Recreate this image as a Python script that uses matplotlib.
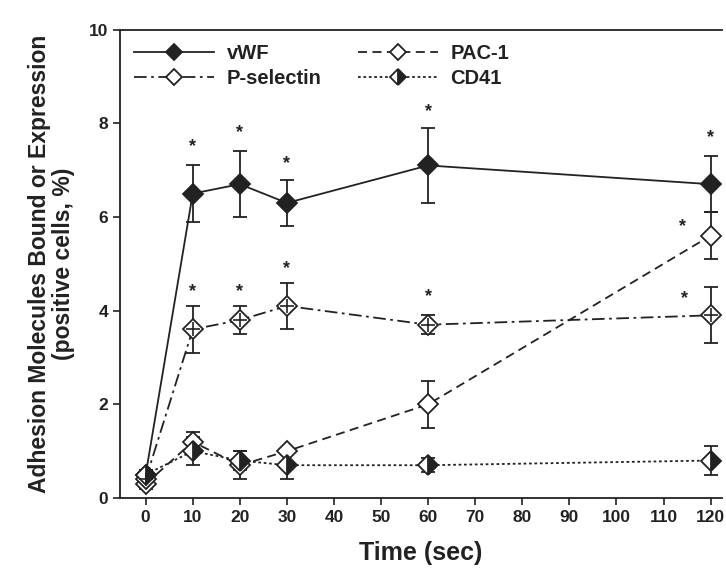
import numpy as np
import matplotlib.pyplot as plt
from matplotlib.lines import Line2D

plt.rcParams['font.family'] = ['Liberation Sans', 'DejaVu Sans']
plt.rcParams['font.weight'] = 'bold'

time = [0, 10, 20, 30, 60, 120]

vwf = [0.5, 6.5, 6.7, 6.3, 7.1, 6.7]
vwf_err = [0.1, 0.6, 0.7, 0.5, 0.8, 0.6]

pac1 = [0.3, 1.2, 0.7, 1.0, 2.0, 5.6]
pac1_err = [0.1, 0.2, 0.3, 0.0, 0.5, 0.5]

psel = [0.4, 3.6, 3.8, 4.1, 3.7, 3.9]
psel_err = [0.1, 0.5, 0.3, 0.5, 0.2, 0.6]

cd41 = [0.5, 1.0, 0.8, 0.7, 0.7, 0.8]
cd41_err = [0.1, 0.3, 0.2, 0.3, 0.15, 0.3]

# significance stars (x, y)
star_x = [10, 20, 30, 60, 120, 10, 20, 30, 60, 114.5, 114]
star_y = [7.5, 7.8, 7.15, 8.25, 7.7, 4.4, 4.4, 4.9, 4.3, 4.25, 5.8]

c = '#222222'
fig = plt.figure(figsize=(7.26, 5.74), dpi=100)
ax = fig.add_axes([0.165, 0.1324, 0.83, 0.816])

kw = dict(color=c, capsize=5, elinewidth=1.3, capthick=1.3, markersize=10,
          markeredgewidth=1.3, lw=1.3)

ls_pac = (0, (5, 3))
ls_psel = (0, (7, 2.5, 1.5, 2.5))
ls_cd = (0, (1.5, 1.5))

ax.errorbar(time, vwf, yerr=vwf_err, marker='D', mfc=c, ls='-', **kw)
ax.errorbar(time, pac1, yerr=pac1_err, marker='D', mfc='white', ls=ls_pac, **kw)
ax.errorbar(time, psel, yerr=psel_err, marker='D', mfc='white', ls=ls_psel, **kw)
ax.plot(time, psel, ls='none', marker='+', color=c, markersize=10, mew=1.2, zorder=5)
ax.errorbar(time, cd41, yerr=cd41_err, marker='D', mfc=c, mfcalt='white', fillstyle='right',
            ls=ls_cd, **kw)

for sx, sy in zip(star_x, star_y):
    ax.text(sx, sy, '*', ha='center', va='center', fontsize=13, color=c)

ax.set_xlim(-5.5, 122.5)
ax.set_ylim(0, 10)
ax.set_xticks(np.arange(0, 121, 10))
ax.set_yticks([0, 2, 4, 6, 8, 10])
ax.tick_params(labelsize=12.5, width=1.2, length=5, colors=c)
ax.spines['right'].set_visible(False)
for s in ['left', 'bottom', 'top']:
    ax.spines[s].set_linewidth(1.3)
    ax.spines[s].set_color(c)

ax.set_xlabel('Time (sec)', fontsize=18, fontweight='bold', labelpad=12, color=c)
ax.set_ylabel('Adhesion Molecules Bound or Expression\n(positive cells, %)', fontsize=16.5,
              fontweight='bold', labelpad=10, color=c, linespacing=1.05)

mk = dict(color=c, marker='D', markersize=8, mew=1.3, lw=1.3)
handles = [Line2D([], [], ls='-', mfc=c, **mk),
           Line2D([], [], ls=ls_psel, mfc='white', **mk),
           Line2D([], [], ls=ls_pac, mfc='white', **mk),
           Line2D([], [], ls=ls_cd, mfc=c, mfcalt='white', fillstyle='right', **mk)]
labels = ['vWF', 'P-selectin', 'PAC-1', 'CD41']
ax.legend(handles, labels, ncol=2, loc='upper left', frameon=False, fontsize=14.5,
          handlelength=4, handletextpad=0.6, columnspacing=1.8, borderaxespad=0.3,
          labelspacing=0.3, labelcolor=c)

fig.savefig('out.png', dpi=100)
